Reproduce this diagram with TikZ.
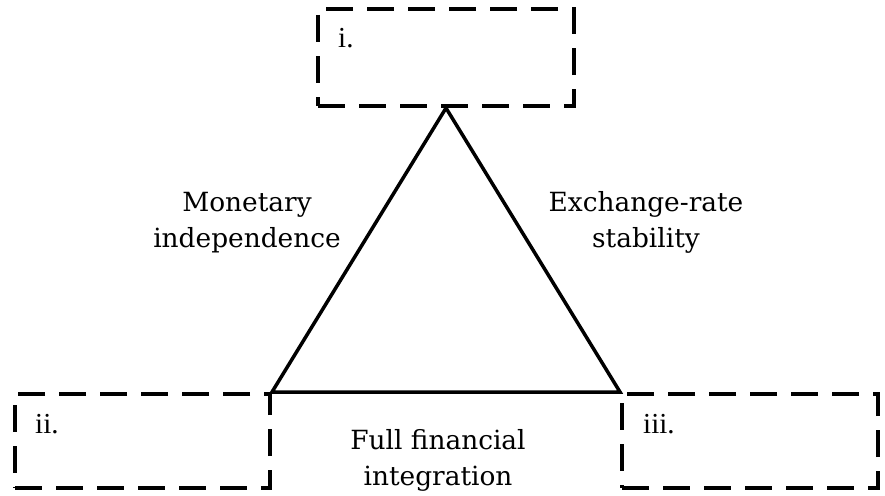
\documentclass[tikz,border=0pt]{standalone}
\usepackage{fontspec}
\setmainfont{DejaVu Serif}
\newfontfamily\labelfont{Liberation Serif}
\begin{document}
\begin{tikzpicture}[x=1pt,y=-1pt,
  dashbox/.style={draw, line width=4pt, dash pattern=on 27pt off 14pt, minimum width=256pt, minimum height=95pt, inner sep=0pt},
  edge/.style={line width=3.5pt, line join=miter},
  caption/.style={align=center, font=\fontsize{26.4}{36}\selectfont, inner sep=0pt},
  tag/.style={anchor=base west, font=\labelfont\fontsize{29}{32}\selectfont, inner sep=0pt}]
\useasboundingbox (0,0) rectangle (885,495);
\node[dashbox, minimum height=97pt] (top) at (446,57.5) {};
\node[dashbox, minimum width=255pt, minimum height=94pt] (left) at (142.5,441) {};
\node[dashbox, minimum height=94pt] (right) at (750,441) {};
\draw[edge] (top.south) -- (left.north east) -- (right.north west) -- cycle;
\node[tag] (ti) at (338,48) {i.};
\node[tag] (tii) at (35,433) {ii.};
\node[tag] (tiii) at (643,433) {iii.};
\node[caption, anchor=base] (mon) at (247,247) {Monetary\\independence};
\node[caption, anchor=base] (exc) at (646,247) {Exchange-rate\\stability};
\node[caption, anchor=base] (ffi) at (438,485) {Full financial\\integration};
\end{tikzpicture}
\end{document}
